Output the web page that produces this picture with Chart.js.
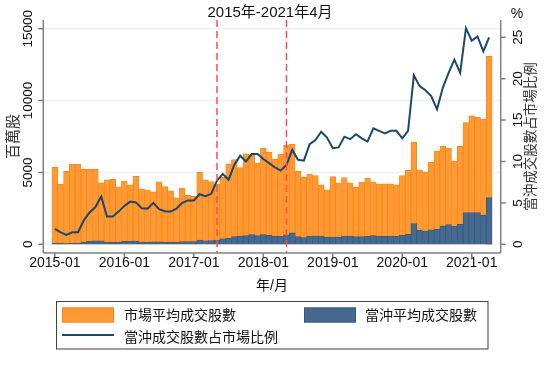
<!DOCTYPE html>
<html>
<head>
<meta charset="utf-8">
<script src="https://cdn.jsdelivr.net/npm/chart.js@4.4.0/dist/chart.umd.min.js"></script>
<style>
  html, body { margin: 0; padding: 0; background: #fff; }
</style>
</head>
<body>
<canvas id="grafico" width="558" height="366"></canvas>
<script>
// Meses (2015-01 até 2021-04)
const meses = [
  '2015-01', '2015-02', '2015-03', '2015-04', '2015-05', '2015-06', '2015-07', '2015-08', '2015-09', '2015-10', '2015-11', '2015-12',
  '2016-01', '2016-02', '2016-03', '2016-04', '2016-05', '2016-06', '2016-07', '2016-08', '2016-09', '2016-10', '2016-11', '2016-12',
  '2017-01', '2017-02', '2017-03', '2017-04', '2017-05', '2017-06', '2017-07', '2017-08', '2017-09', '2017-10', '2017-11', '2017-12',
  '2018-01', '2018-02', '2018-03', '2018-04', '2018-05', '2018-06', '2018-07', '2018-08', '2018-09', '2018-10', '2018-11', '2018-12',
  '2019-01', '2019-02', '2019-03', '2019-04', '2019-05', '2019-06', '2019-07', '2019-08', '2019-09', '2019-10', '2019-11', '2019-12',
  '2020-01', '2020-02', '2020-03', '2020-04', '2020-05', '2020-06', '2020-07', '2020-08', '2020-09', '2020-10', '2020-11', '2020-12',
  '2021-01', '2021-02', '2021-03', '2021-04'
];

// 市場平均成交股數 (百萬股)
const mercado = [
  5350, 4190, 5070, 5580, 5560, 5210, 5210, 5210, 4280, 4490, 4530, 4000,
  4400, 4140, 4740, 3860, 3770, 3650, 4350, 4020, 3720, 3230, 3910, 3400,
  3330, 5000, 4490, 4370, 4170, 4670, 5600, 5900, 5330, 6300, 6250, 5650,
  6700, 6400, 5940, 6280, 6900, 6980, 5070, 4660, 4890, 4780, 4140, 3790,
  4720, 4260, 4650, 4280, 3980, 4330, 4600, 4350, 4200, 4210, 4210, 4140,
  4790, 5140, 7120, 5190, 5000, 5720, 6470, 6840, 6700, 5790, 6810, 8470,
  8930, 8840, 8710, 13070
];

// 當沖平均成交股數 (百萬股)
const dayTrade = [
  90, 60, 55, 75, 80, 150, 200, 235, 245, 150, 150, 155,
  200, 210, 230, 160, 150, 170, 170, 150, 140, 135, 190, 185,
  190, 295, 250, 260, 300, 380, 420, 540, 570, 600, 670, 610,
  680, 620, 550, 550, 660, 790, 530, 470, 570, 590, 580, 510,
  500, 500, 580, 550, 530, 530, 560, 610, 570, 560, 570, 560,
  620, 690, 1440, 980, 910, 1010, 1050, 1280, 1370, 1270, 1390, 2200,
  2200, 2210, 2020, 3250
];

// 當沖成交股數占市場比例 (%)
const proporcao = [
  1.85, 1.45, 1.13, 1.45, 1.45, 2.9, 3.85, 4.5, 5.77, 3.35, 3.35, 3.95,
  4.64, 5.16, 5.06, 4.35, 4.31, 5.0, 4.25, 4.0, 3.95, 4.3, 5.0, 5.3,
  5.3, 6.05, 5.8, 6.1, 7.7, 8.5, 7.8, 9.6, 10.7, 10.0, 10.9, 10.9,
  10.3, 9.8, 9.3, 8.9, 9.6, 11.4, 10.2, 10.1, 12.1, 12.6, 13.6, 12.9,
  11.6, 11.7, 13.0, 12.7, 13.3, 12.8, 12.4, 14.0, 13.7, 13.4, 13.7, 13.7,
  12.8, 13.7, 20.4, 19.1, 18.6, 17.9, 16.3, 18.9, 20.7, 22.3, 20.7, 26.1,
  24.6, 25.1, 23.3, 25.0
];

// Rótulos dos eixos
const ticksX = ['2015-01', '2016-01', '2017-01', '2018-01', '2019-01', '2020-01', '2021-01'];
const ticksEsquerda = [0, 5000, 10000, 15000];
const ticksDireita = [0, 5, 10, 15, 20, 25];
const marcos = ['2017-05', '2018-05'];

const FONTE = '"Liberation Sans", Arial, "Noto Sans CJK TC", sans-serif';
const COR_LARANJA = '#ff9933';
const COR_AZUL = '#466a8f';
const COR_LINHA = '#1a476f';

function textoGirado(ctx, txt, x, y, tam, cor) {
    ctx.save();
    ctx.translate(x, y);
    ctx.rotate(-Math.PI / 2);
    ctx.font = tam + 'px ' + FONTE;
    ctx.fillStyle = cor;
    ctx.textAlign = 'center';
    ctx.textBaseline = 'middle';
    ctx.fillText(txt, 0, 0);
    ctx.restore();
}

function texto(ctx, txt, x, y, tam, cor, alinhar) {
    ctx.font = tam + 'px ' + FONTE;
    ctx.fillStyle = cor;
    ctx.textAlign = alinhar || 'center';
    ctx.textBaseline = 'middle';
    ctx.fillText(txt, x, y);
}

// Plugin para grade, eixos, títulos e legenda
const desenhoPlugin = {
    id: 'desenho',
    beforeDatasetsDraw(chart) {
        const { ctx, chartArea: a } = chart;
        const y = chart.scales.y;
        ctx.save();
        ctx.strokeStyle = '#eaf1f3';
        ctx.lineWidth = 1.5;
        ticksEsquerda.forEach(v => {
            const py = y.getPixelForValue(v);
            ctx.beginPath();
            ctx.moveTo(a.left, py);
            ctx.lineTo(a.right, py);
            ctx.stroke();
        });
        ctx.restore();
    },
    afterDatasetsDraw(chart) {
        const { ctx, chartArea: a, scales } = chart;
        ctx.save();

        // linhas verticais tracejadas
        ctx.strokeStyle = '#ff4d4d';
        ctx.lineWidth = 1.5;
        ctx.setLineDash([7, 4]);
        marcos.forEach(m => {
            const px = scales.x.getPixelForValue(meses.indexOf(m));
            ctx.beginPath();
            ctx.moveTo(px, a.top);
            ctx.lineTo(px, a.bottom);
            ctx.stroke();
        });
        ctx.setLineDash([]);

        // eixos
        ctx.strokeStyle = '#808080';
        ctx.lineWidth = 1.5;
        ctx.beginPath();
        ctx.moveTo(a.left, a.top); ctx.lineTo(a.left, a.bottom);
        ctx.moveTo(a.right, a.top); ctx.lineTo(a.right, a.bottom);
        ctx.moveTo(a.left, a.bottom); ctx.lineTo(a.right, a.bottom);
        ticksEsquerda.forEach(v => {
            const py = scales.y.getPixelForValue(v);
            ctx.moveTo(a.left - 5, py); ctx.lineTo(a.left, py);
        });
        ticksDireita.forEach(v => {
            const py = scales.y1.getPixelForValue(v);
            ctx.moveTo(a.right, py); ctx.lineTo(a.right + 5, py);
        });
        ticksX.forEach(m => {
            const px = scales.x.getPixelForValue(meses.indexOf(m));
            ctx.moveTo(px, a.bottom); ctx.lineTo(px, a.bottom + 5);
        });
        ctx.stroke();

        // rótulos dos ticks
        ticksEsquerda.forEach(v => textoGirado(ctx, String(v), 28, scales.y.getPixelForValue(v), 13.5, '#111'));
        ticksDireita.forEach(v => textoGirado(ctx, String(v), 518, scales.y1.getPixelForValue(v), 13.5, '#111'));
        ticksX.forEach(m => texto(ctx, m, scales.x.getPixelForValue(meses.indexOf(m)), 263, 14, '#111'));

        // títulos
        texto(ctx, '2015年-2021年4月', 270, 13, 15, '#111');
        texto(ctx, '%', 517, 14, 14, '#111');
        texto(ctx, '年/月', (a.left + a.right) / 2, 286, 14, '#111');
        textoGirado(ctx, '百萬股', 13.5, (a.top + a.bottom) / 2, 15, '#333');
        textoGirado(ctx, '當沖成交股數占市場比例', 531.5, (a.top + a.bottom) / 2, 13.5, '#333');

        // legenda
        ctx.strokeStyle = '#404040';
        ctx.lineWidth = 1;
        ctx.strokeRect(56.5, 301.5, 431.5, 47.5);
        ctx.fillStyle = COR_LARANJA;
        ctx.fillRect(62, 307.5, 52, 15);
        ctx.strokeStyle = '#f7861a';
        ctx.strokeRect(62.5, 308, 51, 14);
        ctx.fillStyle = COR_AZUL;
        ctx.fillRect(304, 307.5, 52, 15);
        ctx.strokeStyle = '#355a80';
        ctx.strokeRect(304.5, 308, 51, 14);
        ctx.strokeStyle = COR_LINHA;
        ctx.lineWidth = 2;
        ctx.beginPath();
        ctx.moveTo(62, 335);
        ctx.lineTo(114, 335);
        ctx.stroke();
        texto(ctx, '市場平均成交股數', 124, 316, 14, '#111', 'left');
        texto(ctx, '當沖平均成交股數', 365, 316, 14, '#111', 'left');
        texto(ctx, '當沖成交股數占市場比例', 124, 338, 14, '#111', 'left');

        ctx.restore();
    }
};

function criarGrafico() {
    const ctx = document.getElementById('grafico').getContext('2d');
    new Chart(ctx, {
        type: 'bar',
        data: {
            datasets: [
                {
                    type: 'line',
                    label: '當沖成交股數占市場比例',
                    data: proporcao.map((v, i) => ({ x: i, y: v })),
                    yAxisID: 'y1',
                    borderColor: COR_LINHA,
                    borderWidth: 2,
                    pointRadius: 0,
                    tension: 0,
                    order: 0
                },
                {
                    label: '當沖平均成交股數',
                    data: dayTrade.map((v, i) => ({ x: i, y: v })),
                    yAxisID: 'y',
                    backgroundColor: COR_AZUL,
                    borderColor: '#355a80',
                    borderWidth: 0.8,
                    grouped: false,
                    barPercentage: 1,
                    categoryPercentage: 1,
                    order: 1
                },
                {
                    label: '市場平均成交股數',
                    data: mercado.map((v, i) => ({ x: i, y: v })),
                    yAxisID: 'y',
                    backgroundColor: COR_LARANJA,
                    borderColor: '#f7861a',
                    borderWidth: 0.8,
                    grouped: false,
                    barPercentage: 1,
                    categoryPercentage: 1,
                    order: 2
                }
            ]
        },
        options: {
            responsive: false,
            animation: false,
            layout: { padding: { left: 43.3, right: 57.3, top: 20, bottom: 113 } },
            plugins: {
                legend: { display: false },
                tooltip: { enabled: false }
            },
            scales: {
                x: { type: 'linear', display: false, min: -2, max: 77, offset: false },
                y: { display: false, min: -605, max: 15606 },
                y1: { display: false, position: 'right', min: -1.05, max: 27.09 }
            }
        },
        plugins: [desenhoPlugin]
    });
}

criarGrafico();
</script>
</body>
</html>
